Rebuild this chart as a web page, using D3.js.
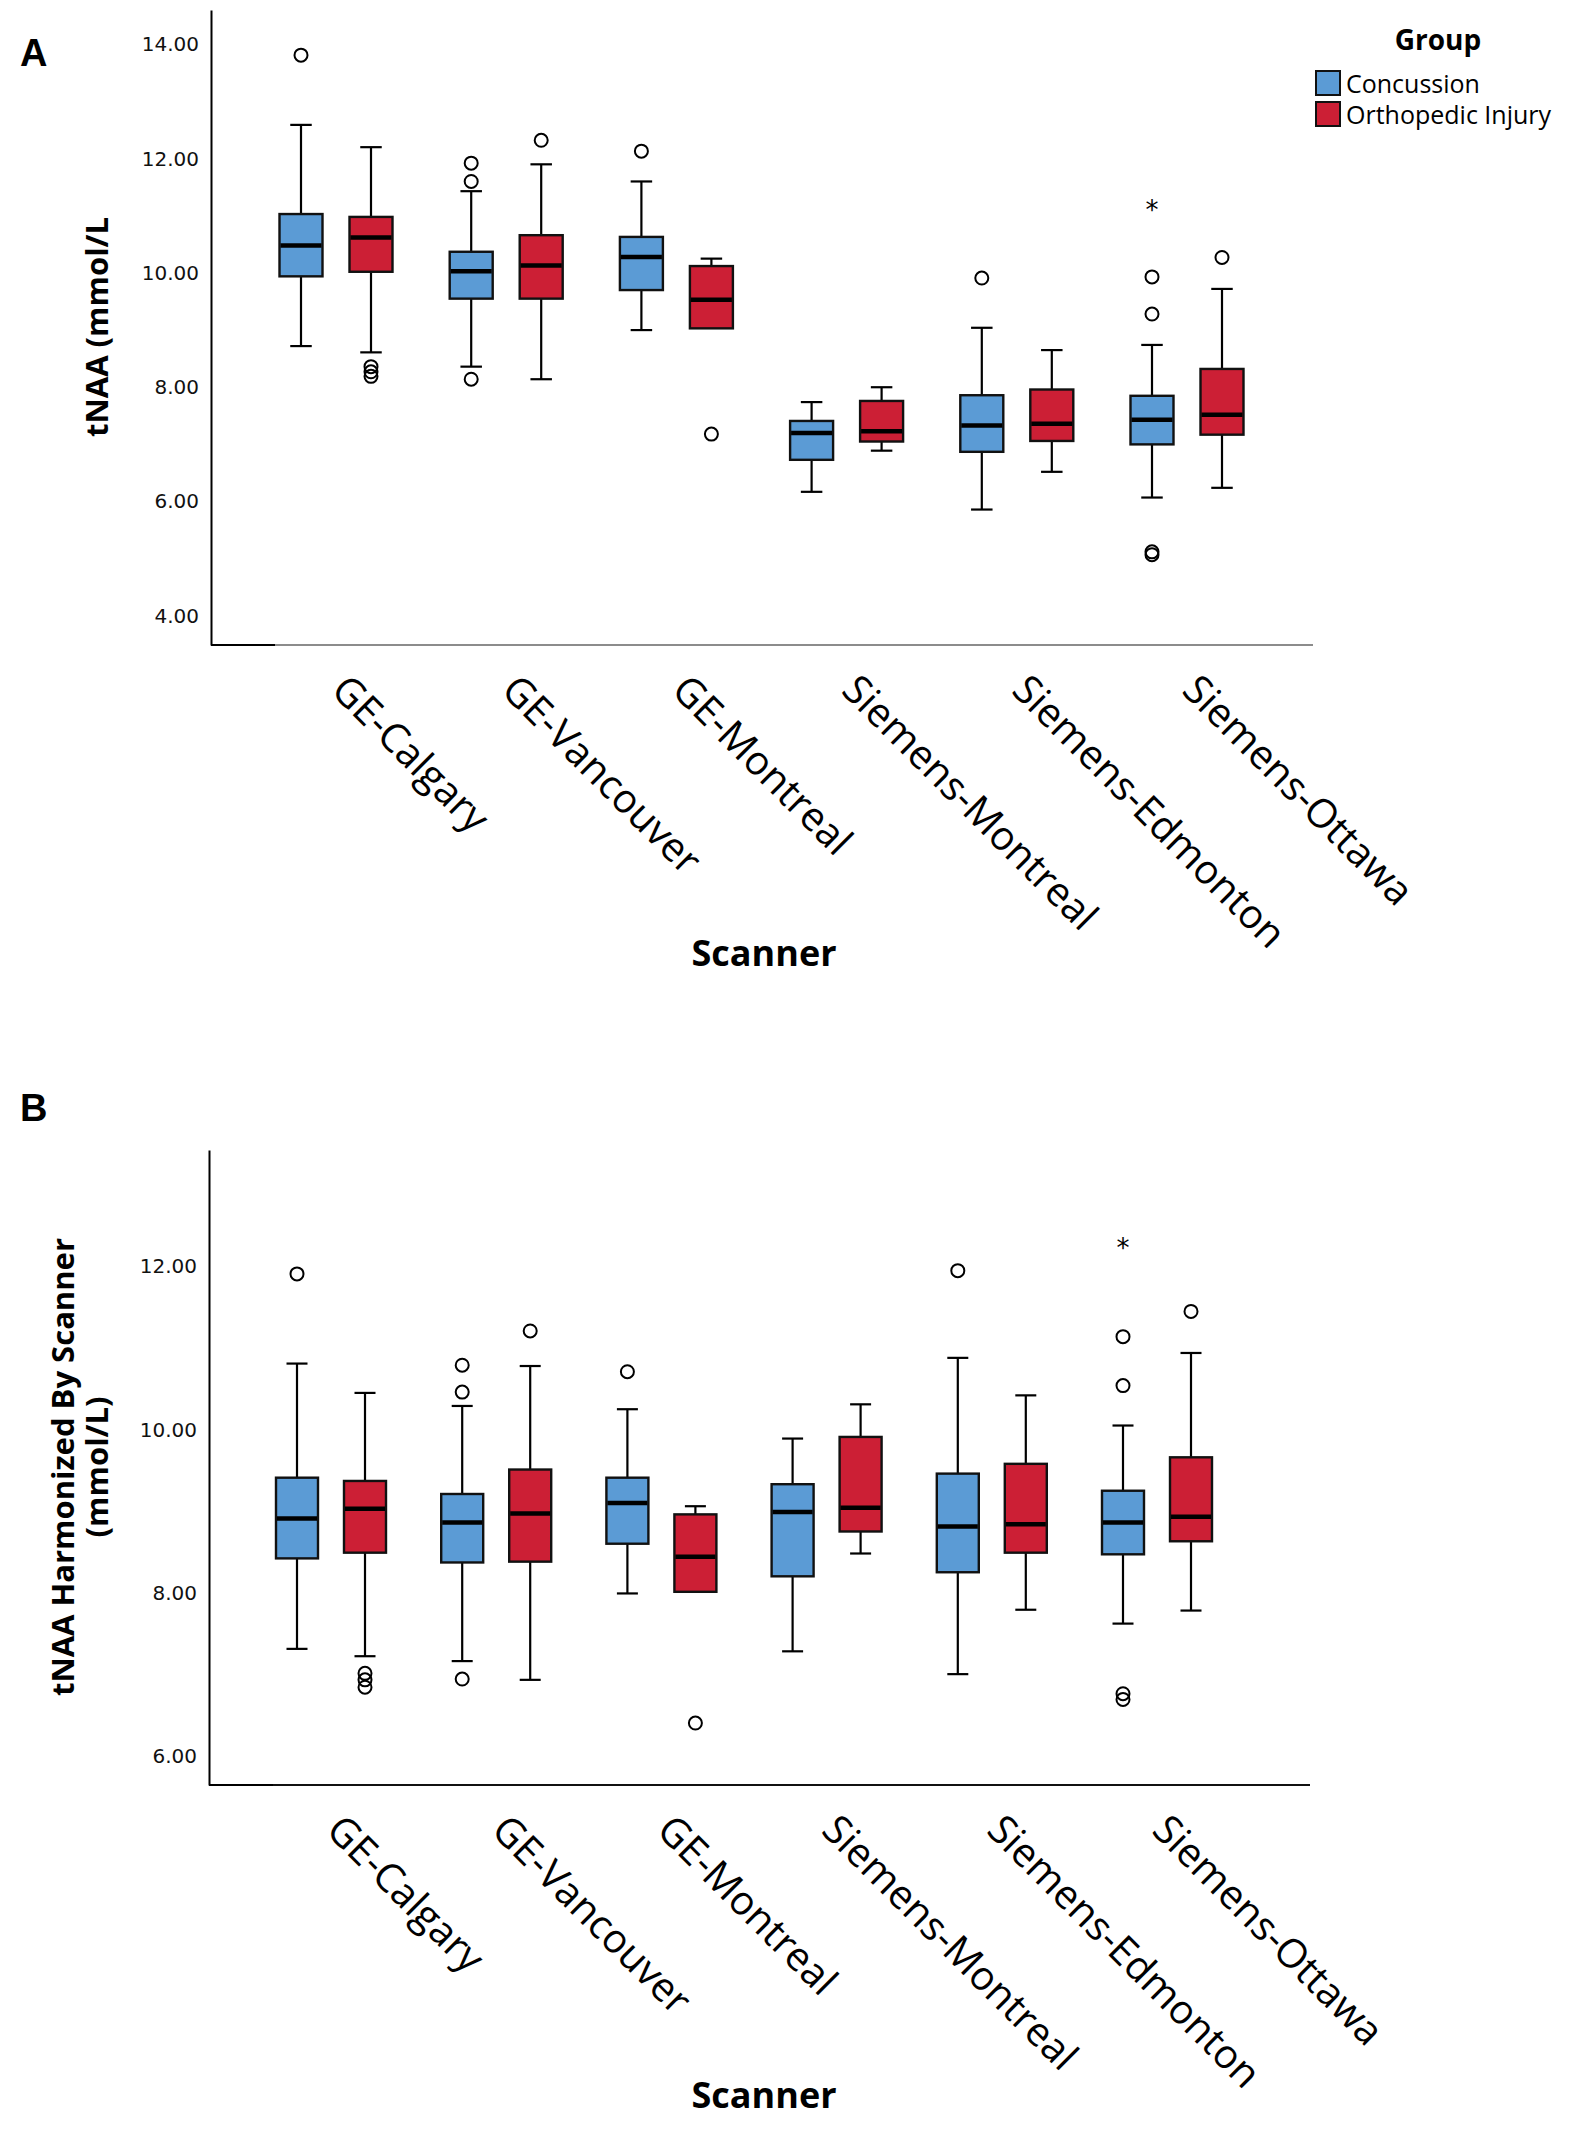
<!DOCTYPE html>
<html>
<head>
<meta charset="utf-8">
<script src="https://cdn.jsdelivr.net/npm/d3@7"></script>
<style>body{margin:0;background:#fff}</style>
</head>
<body>
<svg id="svg" width="1583" height="2133"></svg>
<script>
const scanners=["GE-Calgary","GE-Vancouver","GE-Montreal","Siemens-Montreal","Siemens-Edmonton","Siemens-Ottawa"];
const groups=["Concussion","Orthopedic Injury"];
const groupColors=["#5b9bd5","#cc1f35"];

// box stats: [lower whisker, Q1, median, Q3, upper whisker]
const aConcussion=[[8.72,9.94,10.48,11.03,12.59],[8.36,9.55,10.03,10.37,11.43],[9.00,9.70,10.28,10.63,11.60],[6.17,6.73,7.20,7.41,7.74],[5.86,6.87,7.33,7.86,9.04],[6.07,7.00,7.43,7.85,8.74]];
const aOrtho=[[8.61,10.02,10.62,10.98,12.20],[8.14,9.55,10.13,10.66,11.90],[9.03,9.03,9.53,10.12,10.25],[6.89,7.05,7.23,7.76,8.00],[6.52,7.06,7.36,7.96,8.65],[6.24,7.17,7.52,8.32,9.72]];
const aConcussionOut=[[13.81],[11.92,11.60,8.14],[12.13],[],[9.91],[9.93,9.28,5.12,5.07]];
const aOrthoOut=[[8.36,8.27,8.19],[12.32],[7.18],[],[],[10.27]];
const aConcussionExt=[[],[],[],[],[],[11.16]];
const aOrthoExt=[[],[],[],[],[],[]];
const aTicks=[4,6,8,10,12,14];

const bConcussion=[[7.31,8.42,8.91,9.41,10.81],[7.16,8.37,8.86,9.21,10.29],[7.99,8.60,9.10,9.41,10.25],[7.28,8.20,8.99,9.33,9.89],[7.00,8.25,8.81,9.46,10.88],[7.62,8.47,8.86,9.25,10.05]];
const bOrtho=[[7.22,8.49,9.03,9.37,10.45],[6.93,8.38,8.97,9.51,10.78],[8.01,8.01,8.44,8.96,9.06],[8.48,8.75,9.04,9.91,10.31],[7.79,8.49,8.84,9.58,10.42],[7.78,8.63,8.93,9.66,10.94]];
const bConcussionOut=[[11.91],[10.79,10.46,6.94],[10.71],[],[11.95],[11.14,10.54,6.76,6.69]];
const bOrthoOut=[[7.01,6.93,6.84],[11.21],[6.40],[],[],[11.45]];
const bConcussionExt=[[],[],[],[],[],[12.26]];
const bOrthoExt=[[],[],[],[],[],[]];
const bTicks=[6,8,10,12];

const svg=d3.select("#svg");
const labelFont="'Open Sans', 'Noto Sans', sans-serif";

function drawPanel(p)
{
    const g=svg.append("g");
    const y=d3.scaleLinear().domain(p.yDomain).range(p.yRange);
    const x=d3.scalePoint().domain(scanners).range(p.xRange);
    const xg=d3.scalePoint().domain(groups).range([-p.off,p.off]);
    const axisY=p.yRange[0];

    // y axis
    const ya=g.append("g").attr("transform","translate("+p.axisX+",0)")
        .call(d3.axisLeft(y).tickValues(p.ticks).tickSize(0).tickSizeOuter(0).tickPadding(12).tickFormat(d3.format(".2f")));
    ya.select(".domain").attr("stroke","#000").attr("stroke-width",2);
    ya.selectAll("text").style("font-family","'DejaVu Sans', sans-serif").style("font-size","20px").attr("fill","#111");

    // x axis line
    g.append("line").attr("x1",p.axisX).attr("x2",p.axisEnd).attr("y1",axisY).attr("y2",axisY).attr("stroke",p.baseColor).attr("stroke-width",2);
    g.append("line").attr("x1",p.axisX).attr("x2",p.axisX+64).attr("y1",axisY).attr("y2",axisY).attr("stroke","#000").attr("stroke-width",2);

    const xa=g.append("g").attr("transform","translate(0,"+axisY+")").call(d3.axisBottom(x).tickSize(0));
    xa.select(".domain").remove();
    xa.selectAll("text").attr("x",0).attr("y",0).attr("dy",0)
        .attr("transform","translate(-7,47) rotate(45)")
        .attr("text-anchor","start")
        .style("font-family",labelFont).style("font-size","40px").attr("fill","#000");

    const series=[p.stats[0],p.stats[1]];
    groups.forEach(function(grp,k)
    {
        scanners.forEach(function(sc,i)
        {
            const s=series[k][i];
            const cx=x(sc)+xg(grp);
            const bw=p.boxW;
            const bx=g.append("g");
            // whiskers
            bx.append("line").attr("x1",cx).attr("x2",cx).attr("y1",y(s[4])).attr("y2",y(s[3])).attr("stroke","#000").attr("stroke-width",2.2);
            bx.append("line").attr("x1",cx).attr("x2",cx).attr("y1",y(s[1])).attr("y2",y(s[0])).attr("stroke","#000").attr("stroke-width",2.2);
            if(s[4]>s[3]) bx.append("line").attr("x1",cx-bw/4).attr("x2",cx+bw/4).attr("y1",y(s[4])).attr("y2",y(s[4])).attr("stroke","#000").attr("stroke-width",2.2);
            if(s[0]<s[1]) bx.append("line").attr("x1",cx-bw/4).attr("x2",cx+bw/4).attr("y1",y(s[0])).attr("y2",y(s[0])).attr("stroke","#000").attr("stroke-width",2.2);
            bx.append("rect").attr("x",cx-bw/2).attr("y",y(s[3])).attr("width",bw).attr("height",y(s[1])-y(s[3]))
                .attr("fill",groupColors[k]).attr("stroke","#111").attr("stroke-width",2.4);
            bx.append("line").attr("x1",cx-bw/2+1).attr("x2",cx+bw/2-1).attr("y1",y(s[2])).attr("y2",y(s[2])).attr("stroke","#000").attr("stroke-width",4.5);
            p.outliers[k][i].forEach(function(v)
            {
                bx.append("circle").attr("cx",cx).attr("cy",y(v)).attr("r",6.5).attr("fill","none").attr("stroke","#000").attr("stroke-width",2);
            });
            p.extremes[k][i].forEach(function(v)
            {
                bx.append("text").attr("x",cx).attr("y",y(v)+12).attr("text-anchor","middle")
                    .style("font-family","'DejaVu Sans', sans-serif").style("font-size","26px").text("*");
            });
        });
    });

    // titles
    const yt=g.append("text").attr("transform","translate("+p.yTitleX[0]+","+p.yTitleY+") rotate(-90)")
        .attr("text-anchor","middle").attr("dominant-baseline","central")
        .style("font-family",labelFont).style("font-weight",700).style("font-size","31px");
    yt.append("tspan").attr("x",0).attr("y",0).text(p.yTitle[0]);
    if(p.yTitle.length>1) yt.append("tspan").attr("x",0).attr("y",p.yTitleX[1]-p.yTitleX[0]).text(p.yTitle[1]);

    g.append("text").attr("x",764).attr("y",p.xTitleY).attr("text-anchor","middle")
        .style("font-family",labelFont).style("font-weight",700).style("font-size","36px").text("Scanner");

    g.append("text").attr("x",20).attr("y",p.letterY)
        .style("font-family","'Liberation Sans', Arial, sans-serif").style("font-weight",700).style("font-size","38px").text(p.letter);
}

drawPanel({
    letter:"A", letterY:66,
    yDomain:[3.49,14.6], yRange:[645,10], xRange:[336,1187], off:35, boxW:43,
    axisX:211, axisEnd:1313, baseColor:"#8c8c8c", ticks:aTicks,
    stats:[aConcussion,aOrtho], outliers:[aConcussionOut,aOrthoOut], extremes:[aConcussionExt,aOrthoExt],
    yTitle:["tNAA (mmol/L"], yTitleX:[96], yTitleY:327, xTitleY:966
});
drawPanel({
    letter:"B", letterY:1121,
    yDomain:[5.64,13.43], yRange:[1785,1150], xRange:[331,1157], off:34, boxW:42,
    axisX:209, axisEnd:1310, baseColor:"#111", ticks:bTicks,
    stats:[bConcussion,bOrtho], outliers:[bConcussionOut,bOrthoOut], extremes:[bConcussionExt,bOrthoExt],
    yTitle:["tNAA Harmonized By Scanner","(mmol/L)"], yTitleX:[62,96], yTitleY:1467, xTitleY:2108
});

// legend
const lg=svg.append("g");
lg.append("text").attr("x",1438).attr("y",50).attr("text-anchor","middle")
    .style("font-family",labelFont).style("font-weight",700).style("font-size","28px").text("Group");
groups.forEach(function(grp,k)
{
    lg.append("rect").attr("x",1316).attr("y",71+k*31).attr("width",24).attr("height",24)
        .attr("fill",groupColors[k]).attr("stroke","#111").attr("stroke-width",2);
    lg.append("text").attr("x",1346).attr("y",93+k*31)
        .style("font-family",labelFont).style("font-size","25px").text(grp);
});
</script>
</body>
</html>
